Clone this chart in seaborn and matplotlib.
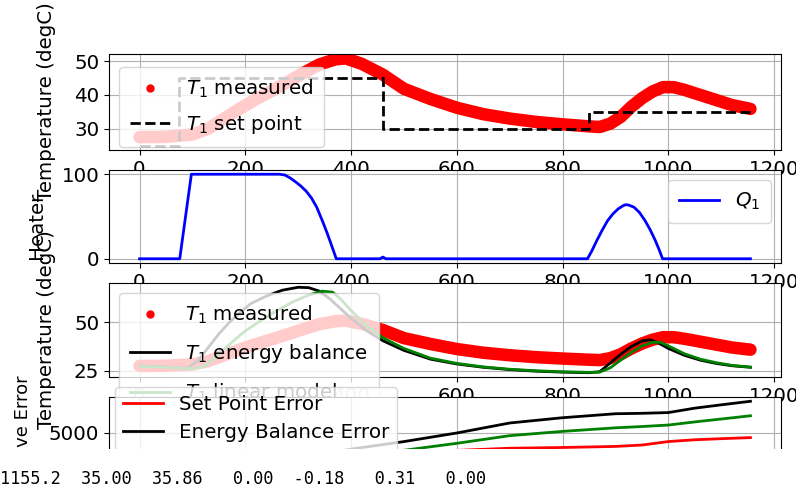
import matplotlib
matplotlib.use('Agg')
import matplotlib.pyplot as plt
from matplotlib.lines import Line2D
from matplotlib.patches import Rectangle
from matplotlib.ticker import MultipleLocator
import seaborn as sns

# measured temperature T1 (degC)
t_meas = [0, 50, 100, 130, 160, 190, 220, 250, 280, 310, 340, 370, 390, 420, 460,
          500, 550, 600, 650, 700, 750, 800, 850, 870, 890, 910, 930, 950, 970, 990,
          1010, 1030, 1060, 1090, 1120, 1155.2]
T1_meas = [27.5, 27.6, 28.3, 30.0, 33.0, 36.0, 38.7, 41.2, 43.8, 46.5, 49.0, 50.5, 50.8, 49.2, 46.0,
           41.8, 38.8, 36.2, 34.3, 33.0, 32.0, 31.3, 30.7, 30.5, 31.5, 33.5, 36.5, 39.0, 41.0, 42.3,
           42.3, 41.5, 40.0, 38.5, 37.0, 35.86]

# set point (steps)
t_sp = [0, 75, 460, 850, 1155.2]
T1_sp = [25, 45, 30, 35, 35]

# heater Q1 (%)
t_q = [0, 76, 98, 265, 275, 285, 295, 305, 315, 325, 335, 345, 355, 363, 372,
       455, 460, 466, 847, 855, 865, 875, 885, 895, 905, 915, 920, 925, 935, 945,
       955, 965, 975, 983, 989, 1155.2]
Q1 = [0, 0, 100, 100, 99, 95.5, 91, 86, 80, 72, 61, 46, 30, 16, 0,
      0, 2, 0, 0, 9, 22, 34, 45, 53, 59, 63, 64, 63.5, 61, 55,
      46, 35, 22, 10, 0, 0]

# energy balance model
t_eb = [0, 50, 90, 110, 130, 150, 170, 190, 210, 240, 270, 300, 320, 340, 360, 380, 400, 430,
        460, 500, 550, 600, 650, 700, 750, 800, 850, 870, 890, 910, 930, 950, 965, 980, 1000,
        1030, 1060, 1090, 1120, 1155.2]
T1_eb = [27.5, 27.0, 26.3, 30.0, 37.0, 44.0, 50.0, 55.0, 59.5, 63.5, 66.5, 68.0, 67.8, 66.0, 62.0, 57.0, 52.0, 45.5,
         40.5, 35.5, 31.0, 28.5, 26.8, 25.6, 24.8, 24.3, 24.0, 24.5, 29.0, 33.5, 37.5, 40.3, 41.0, 39.5, 36.5,
         33.0, 30.5, 28.8, 27.6, 26.8]

# linear model
t_lin = [0, 50, 100, 120, 140, 160, 180, 200, 230, 260, 290, 320, 345, 365, 380, 400, 430,
         460, 500, 550, 600, 650, 700, 750, 800, 850, 870, 890, 910, 930, 950, 970, 985, 1000,
         1030, 1060, 1090, 1120, 1155.2]
T1_lin = [27.3, 26.8, 26.0, 27.0, 31.0, 36.0, 41.0, 45.5, 51.0, 56.0, 60.5, 64.0, 66.0, 65.5, 62.0, 56.0, 48.0,
          42.0, 36.5, 31.5, 28.8, 27.0, 25.8, 25.0, 24.5, 24.2, 24.3, 26.5, 30.5, 34.5, 37.8, 39.6, 39.7, 37.8,
          33.8, 31.0, 29.2, 27.8, 26.9]

# cumulative errors
t_err = [0, 50, 100, 150, 200, 250, 300, 350, 400, 450, 500, 600, 700, 800, 900, 950, 1000,
         1050, 1100, 1155.2]
err_sp = [0, 100, 350, 800, 1300, 1750, 2150, 2500, 2800, 3000, 3150, 3380, 3580, 3650, 3750, 3880, 4200,
          4370, 4470, 4570]
err_eb = [0, 20, 60, 420, 1050, 1750, 2450, 3050, 3500, 3850, 4200, 5000, 5930, 6420, 6790, 6830, 6900,
          7310, 7620, 7950]
err_lin = [0, 15, 40, 260, 700, 1250, 1850, 2400, 2850, 3150, 3390, 4040, 4750, 5150, 5480, 5600, 5740,
           6030, 6300, 6600]

# printed status line
status = [1155.2, 35.00, 35.86, 0.00, -0.18, 0.31, 0.00]

plt.rcParams['font.size'] = 14.3

fig = plt.figure(figsize=(7.96, 4.94), dpi=100)
L, W = 109 / 796, 672 / 796
ax1 = fig.add_axes([L, 344 / 494, W, 96 / 494])
ax2 = fig.add_axes([L, 231 / 494, W, 93 / 494])
ax3 = fig.add_axes([L, 117 / 494, W, 94 / 494])
ax4 = fig.add_axes([L, 3 / 494, W, 94 / 494])

# temperature vs set point
sns.lineplot(x=t_meas, y=T1_meas, ax=ax1, color='red', linewidth=9, solid_capstyle='round')
sns.lineplot(x=t_sp, y=T1_sp, ax=ax1, color='k', linestyle='--', linewidth=2,
             drawstyle='steps-post', estimator=None, sort=False)
h_meas = Line2D([], [], color='red', marker='.', linestyle='none', markersize=10)
h_sp = Line2D([], [], color='k', linestyle='--', linewidth=2)
ax1.legend([h_meas, h_sp], ['$T_1$ measured', '$T_1$ set point'],
           loc='lower left', bbox_to_anchor=(0.015, 0.03), borderaxespad=0,
           labelspacing=0.67, borderpad=0.55)
ax1.set_ylabel('Temperature (degC)')
ax1.yaxis.set_major_locator(MultipleLocator(10))

# heater
sns.lineplot(x=t_q, y=Q1, ax=ax2, color='blue', linewidth=2, estimator=None, sort=False)
ax2.legend([Line2D([], [], color='blue', linewidth=2)], ['$Q_1$'], loc='upper right', borderpad=0.55)
ax2.set_ylabel('Heater')
ax2.yaxis.set_major_locator(MultipleLocator(100))

# models
sns.lineplot(x=t_meas, y=T1_meas, ax=ax3, color='red', linewidth=9, solid_capstyle='round')
sns.lineplot(x=t_eb, y=T1_eb, ax=ax3, color='k', linewidth=2)
sns.lineplot(x=t_lin, y=T1_lin, ax=ax3, color='green', linewidth=2)
ax3.legend([h_meas, Line2D([], [], color='k', linewidth=2), Line2D([], [], color='green', linewidth=2)],
           ['$T_1$ measured', '$T_1$ energy balance', '$T_1$ linear model'],
           loc='upper left', labelspacing=0.82, borderpad=0.55)
ax3.set_ylabel('Temperature (degC)')
ax3.yaxis.set_major_locator(MultipleLocator(25))

# cumulative error
sns.lineplot(x=t_err, y=err_sp, ax=ax4, color='red', linewidth=2)
sns.lineplot(x=t_err, y=err_eb, ax=ax4, color='k', linewidth=2)
sns.lineplot(x=t_err, y=err_lin, ax=ax4, color='green', linewidth=2)
ax4.legend([Line2D([], [], color=c, linewidth=2) for c in ['red', 'k', 'green']],
           ['Set Point Error', 'Energy Balance Error', 'Linear Model Error'],
           loc='upper left', bbox_to_anchor=(0.009, 1.106), borderaxespad=0, labelspacing=0.45)
ax4.set_ylabel('Cumulative Error', fontsize=13)
ax4.yaxis.set_major_locator(MultipleLocator(5000))
ax4.tick_params(labelbottom=False)

for ax in [ax1, ax2, ax3, ax4]:
    ax.xaxis.set_major_locator(MultipleLocator(200))
    ax.grid(True)

ax1.yaxis.set_label_coords(-0.079, 0.5)
ax2.yaxis.set_label_coords(-0.094, 0.41)
ax3.yaxis.set_label_coords(-0.079, 0.5)
ax4.yaxis.set_label_coords(-0.1146, 0.42)

# the figure is cut below the fourth plot, then the printed numbers
fig.add_artist(Rectangle((0, 0), 1, 45 / 494, transform=fig.transFigure,
                         facecolor='white', edgecolor='none', zorder=10))
line = '{:6.1f} {:6.2f} {:6.2f} {:6.2f} {:6.2f} {:6.2f} {:6.2f}'.format(*status)
fig.text(0.0, 10 / 494, line, family='DejaVu Sans Mono', fontsize=12.2,
         va='baseline', ha='left', zorder=11)

fig.savefig('out.png', dpi=100)
